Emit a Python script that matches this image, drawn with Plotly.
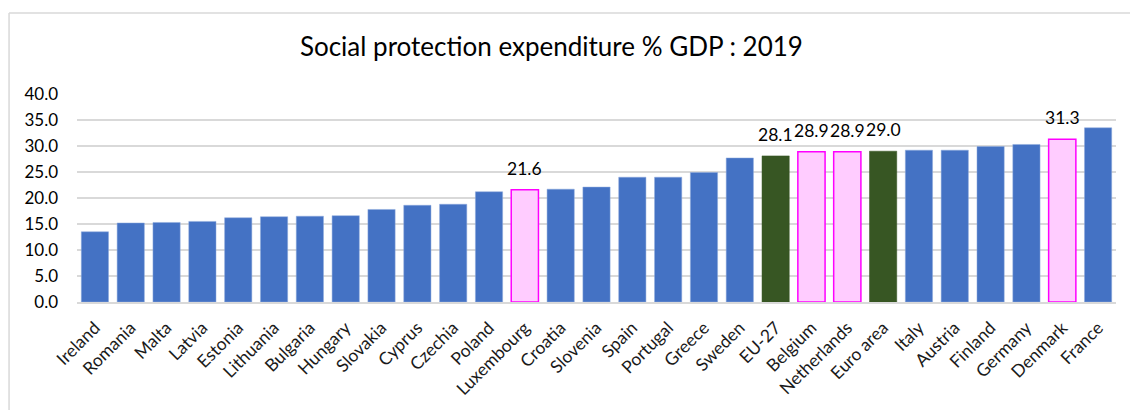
import plotly.graph_objects as go

countries = ["Ireland", "Romania", "Malta", "Latvia", "Estonia", "Lithuania", "Bulgaria",
             "Hungary", "Slovakia", "Cyprus", "Czechia", "Poland", "Luxembourg", "Croatia",
             "Slovenia", "Spain", "Portugal", "Greece", "Sweden", "EU-27", "Belgium",
             "Netherlands", "Euro area", "Italy", "Austria", "Finland", "Germany",
             "Denmark", "France"]
values = [13.5, 15.2, 15.3, 15.5, 16.2, 16.4, 16.5, 16.6, 17.8, 18.6, 18.8, 21.2, 21.6,
          21.7, 22.1, 24.0, 24.0, 24.9, 27.7, 28.1, 28.9, 28.9, 29.0, 29.2, 29.2, 29.9,
          30.3, 31.3, 33.5]
highlight = ["Luxembourg", "Belgium", "Netherlands", "Denmark"]
aggregates = ["EU-27", "Euro area"]
y_ticks = [0, 5, 10, 15, 20, 25, 30, 35, 40]

BLUE = "#4472C4"
GREEN = "#375623"
PINK = "#FFCCFF"
MAGENTA = "#FF00FF"

FONT = "Lato"

fill, line_c, line_w, annotations = [], [], [], []
for c, v in zip(countries, values):
    if c in highlight:
        fill.append(PINK); line_c.append(MAGENTA); line_w.append(1.5)
    elif c in aggregates:
        fill.append(GREEN); line_c.append(GREEN); line_w.append(0.5)
    else:
        fill.append(BLUE); line_c.append("#8FAADC"); line_w.append(0.5)
    if c in highlight or c in aggregates:
        annotations.append(dict(x=c, y=v, xref="x", yref="y", text=f"{v:.1f}",
                                showarrow=False, yanchor="bottom", yshift=9,
                                font=dict(family=FONT, size=17.5, color="#000000")))

fig = go.Figure(go.Bar(
    x=countries, y=values,
    marker=dict(color=fill, line=dict(color=line_c, width=line_w)),
    hoverinfo="x+y",
))

fig.update_layout(
    width=1130, height=410,
    margin=dict(l=77, r=14, t=94, b=108),
    paper_bgcolor="white", plot_bgcolor="white",
    bargap=0.24,
    showlegend=False,
    annotations=annotations,
    title=dict(text="Social protection expenditure % GDP : 2019",
               font=dict(family=FONT, size=26, color="#000000"),
               x=0.488, xanchor="center", y=0.885, yanchor="middle"),
    font=dict(family=FONT, color="#000000"),
    xaxis=dict(tickangle=-45, tickfont=dict(family=FONT, size=17.5, color="#1a1a1a"),
               ticklabelstandoff=7,
               showline=True, linecolor="#D9D9D9", linewidth=1.5, ticks="", showgrid=False),
    yaxis=dict(range=[0, 40], tickvals=y_ticks, ticktext=[f"{t:.1f}" for t in y_ticks],
               tickfont=dict(family=FONT, size=17, color="#000000"),
               ticklabelstandoff=18,
               showgrid=True, gridcolor="#D9D9D9", gridwidth=1.5, zeroline=False,
               showline=False, ticks=""),
    shapes=[
        dict(type="line", xref="paper", yref="paper", x0=-0.0654, x1=1.1, y0=1.389, y1=1.389,
             line=dict(color="#D9D9D9", width=1.5)),
        dict(type="line", xref="paper", yref="paper", x0=-0.0654, x1=-0.0654, y0=1.389, y1=-0.6,
             line=dict(color="#D9D9D9", width=1.5)),
    ],
)

fig.write_html("out.html")
